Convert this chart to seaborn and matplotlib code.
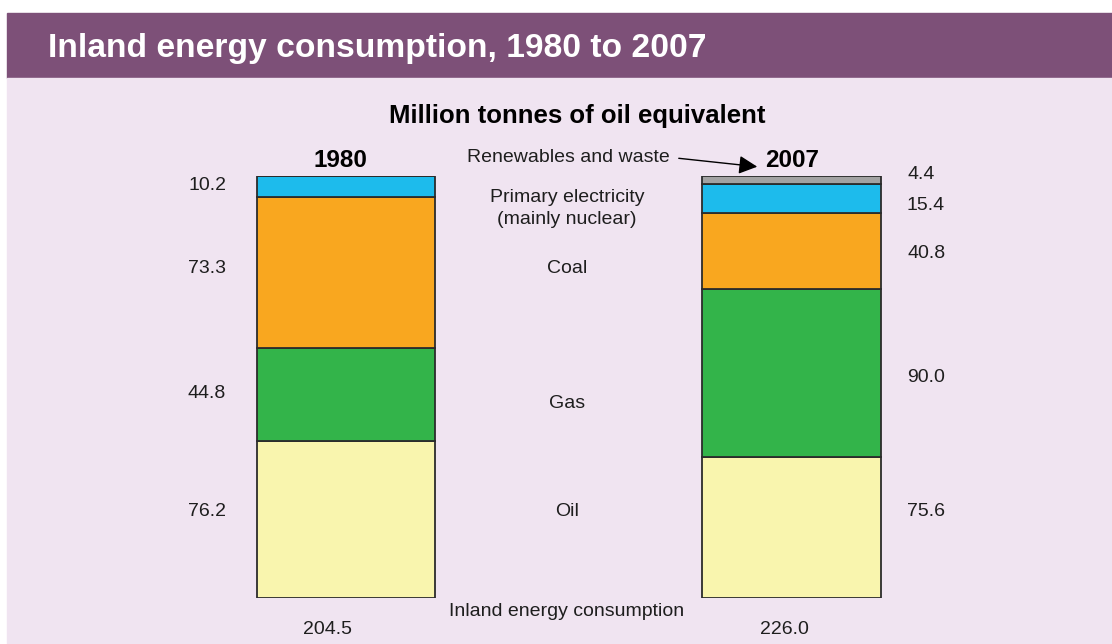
import matplotlib.pyplot as plt
import seaborn as sns
import pandas as pd
from matplotlib.patches import Rectangle, FancyArrowPatch

# Dados (milhoes de toneladas equivalentes de petroleo)
years = ['1980', '2007']
oil = [76.2, 75.6]
gas = [44.8, 90.0]
coal = [73.3, 40.8]
electricity = [10.2, 15.4]
renewables = [0.0, 4.4]
totals = [204.5, 226.0]

layers = [('Oil', oil, '#F9F5AE'), ('Gas', gas, '#33B44A'), ('Coal', coal, '#F9A71F'),
          ('Primary electricity', electricity, '#1DBBEC'), ('Renewables and waste', renewables, '#A2A2A2')]

W, H = 1112, 644
PURPLE = '#7D5078'
BG = '#F0E4F1'
TXT = '#1E1E1E'


def px(x, y):
    return x / W, 1 - y / H


sns.set_style('white')
plt.rcParams['font.family'] = ['Liberation Sans', 'DejaVu Sans']
plt.rcParams['text.color'] = TXT

fig = plt.figure(figsize=(W / 100, H / 100), dpi=100, facecolor='white')
fig.patches.append(Rectangle(px(7, 78), (W - 7) / W, 65 / H, transform=fig.transFigure,
                             color=PURPLE, zorder=-2))
fig.patches.append(Rectangle(px(7, H), (W - 7) / W, (H - 78) / H, transform=fig.transFigure,
                             color=BG, zorder=-2))

ax = fig.add_axes([0, 1 - 598 / H, 1, 422 / H])
ax.set_facecolor('none')

# barras empilhadas em percentagem do total de cada ano
sums = [sum(v[i] for _, v, _ in layers) for i in range(len(years))]
bottom = [0.0] * len(years)
for name, vals, cor in layers:
    share = [v / s * 100 for v, s in zip(vals, sums)]
    df = pd.DataFrame({'Year': years, 'Share': share})
    sns.barplot(data=df, x='Year', y='Share', order=years, color=cor, width=0.4, bottom=bottom,
                edgecolor='#2B2B2B', linewidth=1.3, saturation=1, ax=ax, zorder=2)
    bottom = [b + s for b, s in zip(bottom, share)]

ax.set_xlim(-346 / 445.5, (W - 346) / 445.5)
ax.set_ylim(0, 100)
ax.axis('off')

# textos
fig.text(*px(48, 57), 'Inland energy consumption, 1980 to 2007', color='white', fontsize=24.2,
         fontweight='bold', ha='left', va='baseline')
fig.text(*px(577, 114), 'Million tonnes of oil equivalent', color='black', fontsize=18.5,
         fontweight='bold', ha='center', va='center_baseline')
fig.text(*px(340, 158), years[0], fontsize=17.5, color='black', fontweight='bold', ha='center', va='center_baseline')
fig.text(*px(792, 158), years[1], fontsize=17.5, color='black', fontweight='bold', ha='center', va='center_baseline')

left_y = [509, 392, 266, 183]
for v, y in zip([oil[0], gas[0], coal[0], electricity[0]], left_y):
    fig.text(*px(207, y), f'{v:.1f}', fontsize=14, ha='center', va='center_baseline')

right_y = [510, 375, 251, 203, 173]
for v, y in zip([oil[1], gas[1], coal[1], electricity[1], renewables[1]], right_y):
    fig.text(*px(907, y), f'{v:.1f}', fontsize=14, ha='left', va='center_baseline')

mid_labels = [('Oil', 509), ('Gas', 402), ('Coal', 266), ('Primary electricity', 195),
              ('(mainly nuclear)', 218), ('Inland energy consumption', 610)]
for lab, y in mid_labels:
    fig.text(*px(567, y), lab, fontsize=14, ha='center', va='center_baseline')

fig.text(*px(568, 155), 'Renewables and waste', fontsize=14, ha='center', va='center_baseline')
fig.add_artist(FancyArrowPatch(px(676, 158), px(760, 167), transform=fig.transFigure,
                               arrowstyle='-|>', color='black', lw=1.0, mutation_scale=28, zorder=5))

fig.text(*px(327, 628), f'{totals[0]:.1f}', fontsize=14, ha='center', va='center_baseline')
fig.text(*px(784, 628), f'{totals[1]:.1f}', fontsize=14, ha='center', va='center_baseline')

fig.savefig('out.png', dpi=100, facecolor=fig.get_facecolor())
